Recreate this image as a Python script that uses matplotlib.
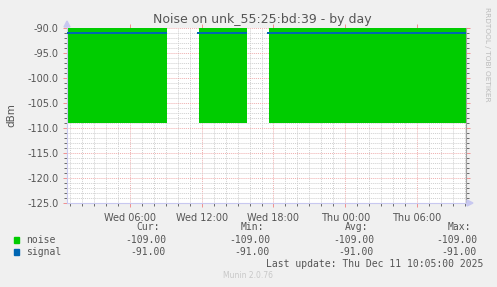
import numpy as np
import matplotlib
matplotlib.use('Agg')
import matplotlib.pyplot as pl
import matplotlib.dates as mdates
from datetime import datetime

# data
t_start = '2025-12-10 00:45'
t_end = '2025-12-11 10:05'
# noise area segments (start, end)
noise_starts = ['2025-12-10 00:45', '2025-12-10 11:45', '2025-12-10 17:40']
noise_ends = ['2025-12-10 09:05', '2025-12-10 15:45', '2025-12-11 10:05']
noise_value = -109.0
# signal line segments
signal_starts = ['2025-12-10 00:45', '2025-12-10 11:35', '2025-12-10 17:30']
signal_ends = ['2025-12-10 09:05', '2025-12-10 15:45', '2025-12-11 10:05']
signal_value = -91.0

legend_names = ['noise', 'signal']
legend_colors = ['#00CC00', '#0066B3']
cur_vals = [-109.00, -91.00]
min_vals = [-109.00, -91.00]
avg_vals = [-109.00, -91.00]
max_vals = [-109.00, -91.00]

def d(s):
    return mdates.date2num(datetime.strptime(s, '%Y-%m-%d %H:%M'))

W, H = 497, 287
f = pl.figure(figsize=(W/100, H/100), dpi=100, facecolor='#F0F0F0')
x0, x1, y0, y1 = 67, 466, 28, 203
ax = f.add_axes([x0/W, 1 - y1/H, (x1-x0)/W, (y1-y0)/H])
ax.set_facecolor('#FFFFFF')

for a, b in zip(noise_starts, noise_ends):
    ax.fill_between([d(a), d(b)], [noise_value]*2, [0, 0], color=legend_colors[0], lw=0, zorder=2)
for a, b in zip(signal_starts, signal_ends):
    ax.plot([d(a), d(b)], [signal_value]*2, color=legend_colors[1], lw=1.4, zorder=3, solid_capstyle='butt')

ax.set_xlim(d(t_start), d(t_end))
ax.set_ylim(-125, -90)

ax.xaxis.set_major_locator(mdates.HourLocator(byhour=[0, 6, 12, 18]))
ax.xaxis.set_minor_locator(mdates.HourLocator())
ax.xaxis.set_major_formatter(mdates.DateFormatter('%a %H:%M'))
ax.set_yticks(np.arange(-125, -89, 5))
ax.set_yticks(np.arange(-125, -89, 1), minor=True)
ax.yaxis.set_major_formatter(matplotlib.ticker.FormatStrFormatter('%.1f'))

ax.grid(which='minor', color='#CFCFCF', ls=(0, (1, 1)), lw=0.7, zorder=1)
ax.grid(which='major', color='#EC9A9A', ls=(0, (1, 1)), lw=0.7, zorder=4, alpha=0.8)
ax.tick_params(which='both', colors='#555555', labelsize=7, length=2, width=0.6)
ax.tick_params(which='major', color='#F08080', length=3)
ax.tick_params(axis='y', which='both', direction='out', right=True, pad=3)
ax.tick_params(axis='x', which='major', top=True, pad=4)
for lab in ax.get_xticklabels() + ax.get_yticklabels():
    lab.set_color('#555555')

ax.spines['top'].set_visible(False)
ax.spines['right'].set_color('#A0A0A0')
ax.spines['right'].set_linewidth(0.8)
ax.spines['left'].set_color('#C8C8F0')
ax.spines['bottom'].set_color('#C8C8F0')
ax.spines['left'].set_linewidth(0.8)
ax.spines['bottom'].set_linewidth(0.8)

# axis arrows
f.patches.append(pl.Polygon([[(x0-3)/W, 1-(y0-1)/H], [(x0+3)/W, 1-(y0-1)/H], [x0/W, 1-(y0-7)/H]],
                            transform=f.transFigure, color='#C8C8F0'))
f.patches.append(pl.Polygon([[(x1+1)/W, 1-(y1-3)/H], [(x1+1)/W, 1-(y1+3)/H], [(x1+7)/W, 1-y1/H]],
                            transform=f.transFigure, color='#C8C8F0'))

def ft(x, y, s, **kw):
    f.text(x/W, 1 - y/H, s, **kw)

ft(262, 19, 'Noise on unk_55:25:bd:39 - by day', ha='center', va='center', fontsize=9, color='#555555')
ft(11, 115, 'dBm', ha='center', va='center', rotation=90, fontsize=7.5, color='#555555')
ft(487, 54, 'RRDTOOL / TOBI OETIKER', ha='center', va='center', rotation=270, fontsize=5.3, color='#BBBBBB')

mono = dict(family='DejaVu Sans Mono', fontsize=7, color='#555555', va='center')
for xr, h in zip([160, 264, 368, 471], ['Cur:', 'Min:', 'Avg:', 'Max:']):
    ft(xr, 227, h, ha='right', **mono)
for i, name in enumerate(legend_names):
    yy = 240 + 12*i
    f.patches.append(pl.Rectangle((14/W, 1-(yy+3)/H), 5/W, 6/H, transform=f.transFigure, color=legend_colors[i]))
    ft(26, yy, name, ha='left', **mono)
    for xr, v in zip([166, 270, 374, 477], [cur_vals[i], min_vals[i], avg_vals[i], max_vals[i]]):
        ft(xr, yy, '%.2f' % v, ha='right', **mono)
ft(483, 264, 'Last update: Thu Dec 11 10:05:00 2025', ha='right', **mono)
ft(248, 276, 'Munin 2.0.76', ha='center', va='center', fontsize=5.5, color='#C8C8C8')

f.savefig('out.png', dpi=100, facecolor='#F0F0F0')
